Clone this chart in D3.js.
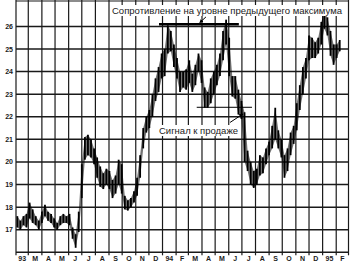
<!DOCTYPE html>
<html>
<head>
<meta charset="utf-8">
<script src="https://cdn.jsdelivr.net/npm/d3@7"></script>
<style>
  body { margin: 0; background: #fff; }
  svg { display: block; }
</style>
</head>
<body>
<div id="chart"></div>
<script>
// month labels, Feb 1993 .. Feb 1995
var monthLabels = ["93","M","A","M","J","J","A","S","O","N","D",
                   "94","F","M","A","M","J","J","A","S","O","N","D",
                   "95","F"];
var priceTicks = [17, 18, 19, 20, 21, 22, 23, 24, 25, 26];

// weekly highs / lows, first week starts 1 Feb 1993
var firstWeek = new Date(1993, 1, 1);
var weekHigh = [17.6,17.4,17.6,17.7,18.2,17.9,17.6,17.4,17.8,18.1,
                17.8,17.7,17.5,17.3,17.6,17.7,17.6,17.7,17.1,16.8,
                17.8,19.9,21.1,21.2,21.0,20.6,20.2,19.8,19.5,19.7,
                19.6,19.2,19.4,20.1,19.9,18.5,18.3,18.4,18.7,19.3,
                20.3,21.5,22.0,22.3,23.0,23.7,24.2,24.8,25.0,26.05,
                25.8,25.2,24.6,24.0,24.0,24.1,24.5,23.9,24.3,24.8,
                24.5,23.3,23.1,23.7,24.0,24.3,24.8,25.8,26.3,25.5,
                23.8,23.8,23.2,22.7,22.2,20.5,20.0,19.6,19.7,20.3,
                20.2,20.6,20.9,21.6,22.4,21.4,21.0,20.3,20.6,21.3,
                21.6,22.6,23.4,24.2,24.6,25.6,25.5,25.3,25.5,26.2,
                26.6,26.4,25.8,25.2,25.2,25.4];
var weekLow  = [17.1,17.0,17.2,17.1,17.5,17.3,17.2,17.0,17.3,17.6,
                17.4,17.3,17.1,17.0,17.2,17.3,17.3,17.2,16.6,16.2,
                16.9,18.4,20.1,20.3,20.2,19.9,19.3,18.9,18.8,19.0,
                18.8,18.4,18.6,19.0,18.6,17.9,17.85,18.0,18.2,18.5,
                19.3,20.6,21.3,21.5,22.0,22.7,23.1,23.7,23.8,24.8,
                24.9,24.2,23.7,23.1,23.3,23.2,23.5,23.1,23.4,24.0,
                23.5,22.4,22.4,22.6,23.0,23.4,23.8,24.5,25.2,23.8,
                22.9,22.8,22.1,21.9,20.0,19.6,19.0,18.85,19.0,19.4,
                19.5,19.9,20.3,20.6,21.0,20.6,20.2,19.3,19.6,20.3,
                20.8,21.4,22.3,23.0,23.7,24.5,24.6,24.6,24.8,25.2,
                25.9,25.6,24.7,24.3,24.6,24.9];

// annotations
var resistanceLevel = 26.1;
var resistanceDates = [new Date(1993, 11, 24), new Date(1994, 5, 24)];
var supportLevel = 22.42;
var supportDates = [new Date(1994, 2, 20), new Date(1994, 6, 24)];
var resistanceText = "Сопротивление на уровне предыдущего максимума";
var signalText = "Сигнал к продаже";

var width = 350, height = 271;
var svg = d3.select("#chart").append("svg")
    .attr("width", width)
    .attr("height", height);

var x = d3.scaleTime()
    .domain([new Date(1993, 1, 1), new Date(1995, 2, 1)])
    .range([16, 348.5]);
var y = d3.scaleLinear()
    .domain([16, 27.17])
    .range([252.3, 0]);

var ink = "#1a1a1a";
var months = d3.timeMonth.range(new Date(1993, 1, 1), new Date(1995, 2, 2));
var weekX = function(i) { return x(d3.timeDay.offset(firstWeek, 7 * i + 3)); };

// vertical grid, one line per month
svg.append("g")
  .selectAll("line")
  .data(months)
  .enter().append("line")
    .attr("x1", function(d) { return x(d); })
    .attr("x2", function(d) { return x(d); })
    .attr("y1", 0)
    .attr("y2", y(16) + 3)
    .attr("stroke", ink)
    .attr("stroke-width", 1.2);

// horizontal grid
svg.append("g")
  .selectAll("line")
  .data(priceTicks)
  .enter().append("line")
    .attr("x1", x.range()[0])
    .attr("x2", x.range()[1])
    .attr("y1", function(d) { return y(d); })
    .attr("y2", function(d) { return y(d); })
    .attr("stroke", ink)
    .attr("stroke-width", 1.5);

// frame top and bottom
svg.append("line")
    .attr("x1", x.range()[0]).attr("x2", x.range()[1])
    .attr("y1", 1).attr("y2", 1)
    .attr("stroke", ink).attr("stroke-width", 1.2);
svg.append("line")
    .attr("x1", x.range()[0]).attr("x2", x.range()[1])
    .attr("y1", y(16)).attr("y2", y(16))
    .attr("stroke", ink).attr("stroke-width", 1.5);

// y labels
svg.append("g")
  .selectAll("text")
  .data(priceTicks)
  .enter().append("text")
    .attr("x", 13)
    .attr("y", function(d) { return y(d) + 2.5; })
    .attr("text-anchor", "end")
    .style("font", "bold 7px 'Liberation Sans', Arial, sans-serif")
    .attr("fill", ink)
    .text(function(d) { return d; });

// month labels centred in each month
svg.append("g")
  .selectAll("text")
  .data(monthLabels)
  .enter().append("text")
    .attr("x", function(d, i) {
      var a = months[i], b = d3.timeMonth.offset(a, 1);
      return (x(a) + x(b)) / 2;
    })
    .attr("y", 261)
    .attr("text-anchor", "middle")
    .style("font", "bold 7px 'Liberation Sans', Arial, sans-serif")
    .attr("fill", ink)
    .text(function(d) { return d; });

// price band: weekly high-low range, joined week to week
var band = d3.area()
    .x(function(d, i) { return weekX(i); })
    .y0(function(d, i) { return y(weekLow[i]); })
    .y1(function(d) { return y(d); });

svg.append("path")
    .datum(weekHigh)
    .attr("d", band)
    .attr("fill", "#000")
    .attr("fill-opacity", 0.55);

// price bars
svg.append("g")
  .selectAll("line")
  .data(weekHigh)
  .enter().append("line")
    .attr("x1", function(d, i) { return weekX(i); })
    .attr("x2", function(d, i) { return weekX(i); })
    .attr("y1", function(d) { return y(d); })
    .attr("y2", function(d, i) { return y(weekLow[i]); })
    .attr("stroke", "#000")
    .attr("stroke-width", 1.8);

// resistance line
svg.append("line")
    .attr("x1", x(resistanceDates[0])).attr("x2", x(resistanceDates[1]))
    .attr("y1", y(resistanceLevel)).attr("y2", y(resistanceLevel))
    .attr("stroke", "#000").attr("stroke-width", 2.5);

// support line
svg.append("line")
    .attr("x1", x(supportDates[0])).attr("x2", x(supportDates[1]))
    .attr("y1", y(supportLevel)).attr("y2", y(supportLevel))
    .attr("stroke", "#000").attr("stroke-width", 1);

// arrow heads
svg.append("defs").append("marker")
    .attr("id", "head")
    .attr("viewBox", "0 0 6 6")
    .attr("refX", 5).attr("refY", 3)
    .attr("markerWidth", 4).attr("markerHeight", 4)
    .attr("orient", "auto")
  .append("path")
    .attr("d", "M0,0L6,3L0,6Z")
    .attr("fill", "#000");

svg.append("line")
    .attr("x1", x(new Date(1994, 3, 10))).attr("y1", y(26.42))
    .attr("x2", x(new Date(1994, 2, 27))).attr("y2", y(26.17))
    .attr("stroke", "#000").attr("stroke-width", 1)
    .attr("marker-end", "url(#head)");

svg.append("line")
    .attr("x1", x(new Date(1994, 5, 4))).attr("y1", y(21.75))
    .attr("x2", x(new Date(1994, 6, 3))).attr("y2", y(22.12))
    .attr("stroke", "#000").attr("stroke-width", 1)
    .attr("marker-end", "url(#head)");

// annotation texts
svg.append("rect")
    .attr("x", 111).attr("y", 5).attr("width", 232).attr("height", 11)
    .attr("fill", "#fff");
svg.append("text")
    .attr("x", 112).attr("y", 14)
    .attr("textLength", 230).attr("lengthAdjust", "spacingAndGlyphs")
    .style("font", "9.5px 'Liberation Sans', Arial, sans-serif")
    .attr("fill", ink)
    .text(resistanceText);

svg.append("rect")
    .attr("x", 158).attr("y", 125).attr("width", 81).attr("height", 11)
    .attr("fill", "#fff");
svg.append("text")
    .attr("x", 159).attr("y", 133.5)
    .attr("textLength", 79).attr("lengthAdjust", "spacingAndGlyphs")
    .style("font", "9.5px 'Liberation Sans', Arial, sans-serif")
    .attr("fill", ink)
    .text(signalText);
</script>
</body>
</html>
